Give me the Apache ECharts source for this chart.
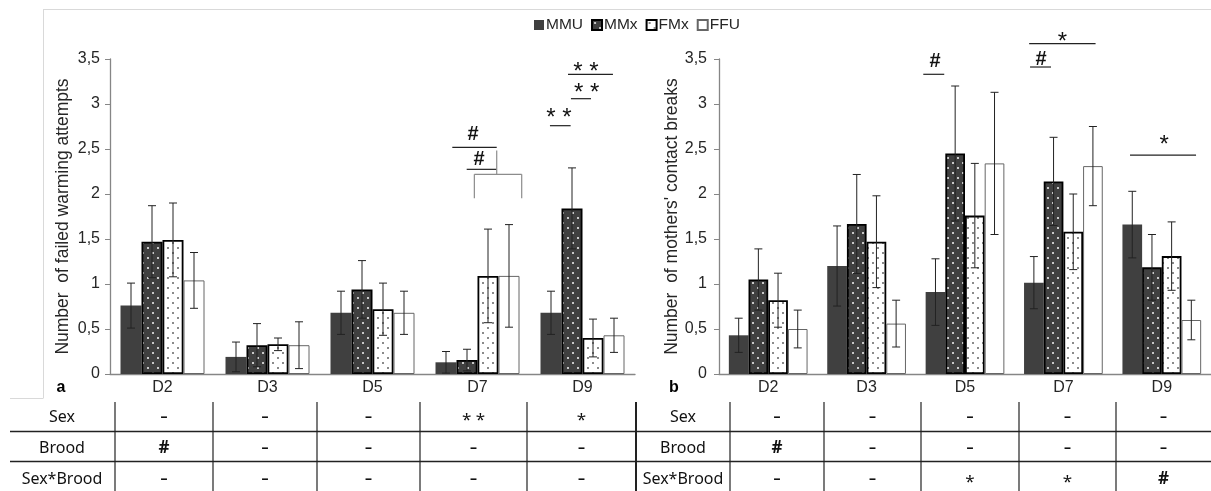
<!DOCTYPE html>
<html><head><meta charset="utf-8">
<script src="https://cdn.jsdelivr.net/npm/echarts@6/dist/echarts.min.js"></script>
<style>html,body{margin:0;padding:0;background:#fff}#c{width:1211px;height:491px}</style>
</head><body><div id="c"></div>
<script>
// ---------- data ----------
const categories = ['D2', 'D3', 'D5', 'D7', 'D9'];
const seriesNames = ['MMU', 'MMx', 'FMx', 'FFU'];
const yTickValues = [0, 0.5, 1, 1.5, 2, 2.5, 3, 3.5];

// panel a: Number of failed warming attempts
const aMMU = [0.76, 0.19, 0.68, 0.13, 0.68];
const aMMx = [1.47, 0.32, 0.94, 0.155, 1.84];
const aFMx = [1.49, 0.33, 0.72, 1.09, 0.40];
const aFFU = [1.04, 0.32, 0.68, 1.09, 0.43];
const aErrMMU = [0.25, 0.165, 0.24, 0.12, 0.24];
const aErrMMx = [0.40, 0.24, 0.32, 0.12, 0.45];
const aErrFMx = [0.41, 0.07, 0.29, 0.52, 0.21];
const aErrFFU = [0.31, 0.26, 0.24, 0.57, 0.19];

// panel b: Number of mothers' contact breaks
const bMMU = [0.43, 1.20, 0.91, 1.015, 1.66];
const bMMx = [1.05, 1.667, 2.45, 2.14, 1.185];
const bFMx = [0.82, 1.47, 1.76, 1.58, 1.31];
const bFFU = [0.50, 0.56, 2.34, 2.31, 0.60];
const bErrMMU = [0.19, 0.445, 0.37, 0.29, 0.37];
const bErrMMx = [0.34, 0.55, 0.75, 0.49, 0.365];
const bErrFMx = [0.30, 0.51, 0.58, 0.42, 0.38];
const bErrFFU = [0.21, 0.26, 0.79, 0.44, 0.22];

// statistics tables under the panels
const tableRows = ['Sex', 'Brood', 'Sex*Brood'];
const tableA = [['-', '-', '-', '**', '*'], ['#', '-', '-', '-', '-'], ['-', '-', '-', '-', '-']];
const tableB = [['-', '-', '-', '-', '-'], ['#', '-', '-', '-', '-'], ['-', '-', '*', '*', '#']];

// ---------- styles ----------
function makePattern(bg, dot, size) {
  const cv = document.createElement('canvas');
  cv.width = 10; cv.height = 10;
  const ctx = cv.getContext('2d');
  ctx.fillStyle = bg; ctx.fillRect(0, 0, 10, 10);
  ctx.fillStyle = dot;
  ctx.fillRect(2, 2, size, size);
  ctx.fillRect(7, 7, size, size);
  return { image: cv, repeat: 'repeat' };
}
const styles = [
  { color: '#404040', borderColor: '#404040', borderWidth: 0 },
  { color: makePattern('#404040', '#c8c8c8', 2), borderColor: '#000', borderWidth: 1.8 },
  { color: makePattern('#ffffff', '#8a8a8a', 2), borderColor: '#000', borderWidth: 1.8 },
  { color: '#ffffff', borderColor: '#666', borderWidth: 1 }
];

const panels = [
  { vals: [aMMU, aMMx, aFMx, aFFU], errs: [aErrMMU, aErrMMx, aErrFMx, aErrFFU],
    name: 'Number  of failed warming attempts' },
  { vals: [bMMU, bMMx, bFMx, bFFU], errs: [bErrMMU, bErrMMx, bErrFMx, bErrFFU],
    name: "Number  of mothers' contact breaks" }
];

const axisFont = { fontFamily: 'Liberation Sans', fontSize: 16, color: '#262626' };
const gridDefs = [
  { left: 110, width: 525, top: 59, height: 315 },
  { left: 719, width: 492, top: 59, height: 315 }
];

const xAxes = [], yAxes = [], series = [];
panels.forEach((p, g) => {
  xAxes.push({
    type: 'category', gridIndex: g, data: categories,
    axisLine: { lineStyle: { color: '#868686', width: 1.3 } },
    axisTick: { show: false },
    axisLabel: Object.assign({ margin: 6 }, axisFont)
  });
  yAxes.push({
    type: 'value', gridIndex: g, min: 0, max: 3.5, interval: 0.5,
    name: p.name, nameLocation: 'middle', nameGap: g === 0 ? 38 : 36, nameRotate: 90,
    nameTextStyle: { fontFamily: 'Liberation Sans', fontSize: 17.5, color: '#262626' },
    axisLine: { show: true, lineStyle: { color: '#868686', width: 1.3 } },
    axisTick: { show: true, length: 5, lineStyle: { color: '#868686' } },
    splitLine: { show: false },
    axisLabel: Object.assign({ margin: g === 0 ? 10 : 12,
      formatter: v => String(v).replace('.', ',') }, axisFont)
  });
  p.vals.forEach((arr, s) => {
    series.push({
      type: 'bar', name: seriesNames[s], xAxisIndex: g, yAxisIndex: g,
      data: arr, barCategoryGap: '20%', barGap: '0%',
      itemStyle: styles[s], emphasis: { disabled: true }, animation: false
    });
  });
  const errData = [];
  p.vals.forEach((arr, s) => arr.forEach((v, i) => errData.push([i, v, p.errs[s][i], s])));
  series.push({
    type: 'custom', xAxisIndex: g, yAxisIndex: g, z: 5, animation: false,
    data: errData,
    renderItem: (params, api) => {
      const ci = api.value(0), v = api.value(1), e = api.value(2), s = api.value(3);
      const c = api.coord([ci, v]);
      const band = api.size([1, 0])[0];
      const bw = band * 0.8 / 4;
      const x = c[0] - band * 0.4 + (s + 0.5) * bw;
      const yt = api.coord([ci, v + e])[1];
      const yb = api.coord([ci, v - e])[1];
      const cap = 4;
      const ls = { stroke: '#222', lineWidth: 1 };
      return { type: 'group', children: [
        { type: 'line', shape: { x1: x, y1: yt, x2: x, y2: yb }, style: ls },
        { type: 'line', shape: { x1: x - cap, y1: yt, x2: x + cap, y2: yt }, style: ls },
        { type: 'line', shape: { x1: x - cap, y1: yb, x2: x + cap, y2: yb }, style: ls }
      ] };
    }
  });
});

const chart = echarts.init(document.getElementById('c'), null, { renderer: 'canvas' });
chart.setOption({
  animation: false,
  backgroundColor: '#fff',
  legend: {
    data: seriesNames, left: 529, top: 12, icon: 'rect', itemWidth: 10, itemHeight: 10,
    itemGap: 8, selectedMode: false,
    textStyle: { fontFamily: 'Liberation Sans', fontSize: 15.5, color: '#262626', padding: [0, 0, 0, -3] }
  },
  grid: gridDefs,
  xAxis: xAxes,
  yAxis: yAxes,
  series: series
});

// ---------- annotations (significance marks), in category / value units ----------
const annotations = [
  // panel a, D7
  { g: 0, c: 3, t: 'text', dx: -0.043, v: 2.656, text: '#' },
  { g: 0, c: 3, t: 'h', dx: [-0.240, 0.183], v: 2.519 },
  { g: 0, c: 3, t: 'text', dx: 0.014, v: 2.389, text: '#' },
  { g: 0, c: 3, t: 'h', dx: [-0.103, 0.183], v: 2.274 },
  { g: 0, c: 3, t: 'v', dx: 0.183, v: [2.482, 2.219], gray: true },
  { g: 0, c: 3, t: 'h', dx: [-0.030, 0.421], v: 2.219, gray: true },
  { g: 0, c: 3, t: 'v', dx: -0.030, v: [2.219, 1.952], gray: true },
  { g: 0, c: 3, t: 'v', dx: 0.421, v: [2.219, 1.952], gray: true },
  // panel a, D9
  { g: 0, c: 4, t: 'text', dx: -0.224, v: 2.922, text: '**' },
  { g: 0, c: 4, t: 'h', dx: [-0.310, -0.113], v: 2.759 },
  { g: 0, c: 4, t: 'text', dx: 0.040, v: 3.192, text: '**' },
  { g: 0, c: 4, t: 'h', dx: [-0.110, 0.081], v: 3.059 },
  { g: 0, c: 4, t: 'text', dx: 0.033, v: 3.433, text: '**' },
  { g: 0, c: 4, t: 'h', dx: [-0.138, 0.290], v: 3.330 },
  // panel b, D5
  { g: 1, c: 2, t: 'text', dx: -0.305, v: 3.47, text: '#' },
  { g: 1, c: 2, t: 'h', dx: [-0.424, -0.211], v: 3.33 },
  // panel b, D7
  { g: 1, c: 3, t: 'text', dx: -0.011, v: 3.767, text: '*' },
  { g: 1, c: 3, t: 'h', dx: [-0.348, 0.327], v: 3.67 },
  { g: 1, c: 3, t: 'text', dx: -0.228, v: 3.497, text: '#' },
  { g: 1, c: 3, t: 'h', dx: [-0.339, -0.126], v: 3.411 },
  // panel b, D9
  { g: 1, c: 4, t: 'text', dx: 0.025, v: 2.62, text: '*' },
  { g: 1, c: 4, t: 'h', dx: [-0.323, 0.348], v: 2.433 }
];

const graphics = [];
function px(g, c, dx) {
  const x0 = chart.convertToPixel({ xAxisIndex: g }, 0);
  const x1 = chart.convertToPixel({ xAxisIndex: g }, 1);
  return chart.convertToPixel({ xAxisIndex: g }, c) + dx * (x1 - x0);
}
function py(g, v) { return chart.convertToPixel({ yAxisIndex: g }, v); }

annotations.forEach(a => {
  const col = a.gray ? '#8c8c8c' : '#222';
  if (a.t === 'text') {
    const isStar = a.text.indexOf('*') >= 0;
    graphics.push({ type: 'text', x: px(a.g, a.c, a.dx), y: py(a.g, a.v) + (isStar ? 7 : 0),
      style: { text: isStar ? a.text.split('').join(' ') : a.text, fill: '#111',
        font: (isStar ? '24px' : 'bold 20px') + ' "Liberation Sans"', align: 'center', verticalAlign: 'middle' } });
  } else if (a.t === 'h') {
    const y = py(a.g, a.v);
    graphics.push({ type: 'line', shape: { x1: px(a.g, a.c, a.dx[0]), y1: y, x2: px(a.g, a.c, a.dx[1]), y2: y },
      style: { stroke: col, lineWidth: 1.2 } });
  } else {
    const x = px(a.g, a.c, a.dx);
    graphics.push({ type: 'line', shape: { x1: x, y1: py(a.g, a.v[0]), x2: x, y2: py(a.g, a.v[1]) },
      style: { stroke: col, lineWidth: 1.2 } });
  }
});

// chart-area frame remnants
const frame = '#d9d9d9';
graphics.push({ type: 'line', shape: { x1: 43, y1: 9.5, x2: 1211, y2: 9.5 }, style: { stroke: frame, lineWidth: 1 } });
graphics.push({ type: 'line', shape: { x1: 43.5, y1: 9, x2: 43.5, y2: 398 }, style: { stroke: frame, lineWidth: 1 } });
graphics.push({ type: 'line', shape: { x1: 10, y1: 398.5, x2: 43.5, y2: 398.5 }, style: { stroke: frame, lineWidth: 1 } });

// panel letters
graphics.push({ type: 'text', x: 61, y: 388, style: { text: 'a', font: 'bold 16px "Liberation Sans"', fill: '#000', align: 'center', verticalAlign: 'middle' } });
graphics.push({ type: 'text', x: 674, y: 388, style: { text: 'b', font: 'bold 16px "Liberation Sans"', fill: '#000', align: 'center', verticalAlign: 'middle' } });

// tables
const rowY = [417, 448, 479];
const hLineY = [431.5, 461.5];
const tables = [
  { cells: tableA, labelX: 62, cols: [115, 213, 317, 420, 527, 636] },
  { cells: tableB, labelX: 683, cols: [730, 824, 921, 1019, 1116, 1211] }
];
hLineY.forEach(y => graphics.push({ type: 'line', shape: { x1: 10, y1: y, x2: 1211, y2: y }, style: { stroke: '#222', lineWidth: 1.3 } }));
tables.forEach((t, ti) => {
  t.cols.forEach((x, k) => {
    if (ti === 1 && k === t.cols.length - 1) return;
    graphics.push({ type: 'line', shape: { x1: x, y1: 402, x2: x, y2: 491 },
      style: { stroke: '#222', lineWidth: (ti === 0 && k === t.cols.length - 1) ? 2 : 1.2 } });
  });
  tableRows.forEach((r, ri) => {
    graphics.push({ type: 'text', x: t.labelX, y: rowY[ri], style: { text: r, font: '16px "Noto Sans"', fill: '#111', align: 'center', verticalAlign: 'middle' } });
    t.cells[ri].forEach((v, ci) => {
      const cx = (t.cols[ci] + t.cols[ci + 1]) / 2;
      const star = v.indexOf('*') >= 0;
      graphics.push({ type: 'text', x: cx, y: rowY[ri] + (star ? 3 : 0),
        style: { text: star ? v.split('').join(' ') : (v === '-' ? '\u2013' : v),
          font: (v === '#' ? 'bold 17px' : (v === '-' ? 'bold 14px' : '17px')) + ' "Noto Sans"', fill: '#111', align: 'center', verticalAlign: 'middle' } });
    });
  });
});

chart.setOption({ graphic: graphics });
</script>
</body></html>
